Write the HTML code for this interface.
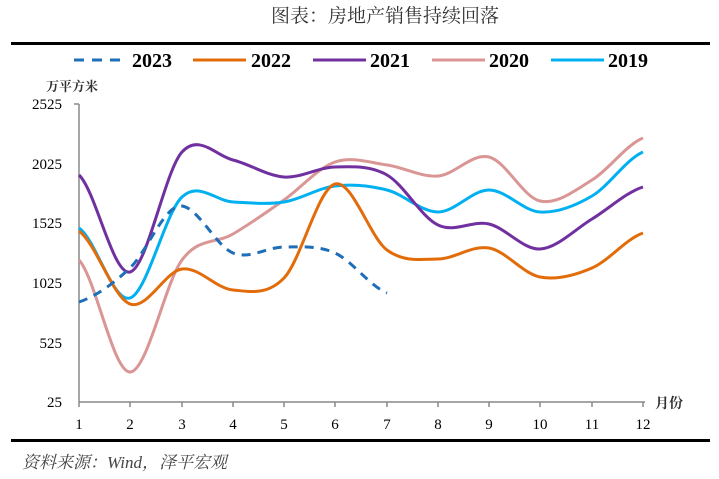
<!DOCTYPE html>
<html><head><meta charset="utf-8"><style>
body{margin:0;background:#fff;width:719px;height:479px;overflow:hidden}
svg{display:block}
</style></head><body>
<svg width="719" height="479" xmlns="http://www.w3.org/2000/svg">
<text x="385" y="22" text-anchor="middle" font-size="19" fill="#333" font-family="Liberation Serif, Noto Serif CJK SC, serif">图表：房地产销售持续回落</text>
<rect x="11" y="42" width="699" height="3" fill="#000"/>
<rect x="11" y="439" width="699" height="3" fill="#000"/>
<g font-family="Liberation Serif, serif" font-weight="bold" font-size="20">
<line x1="74" y1="60" x2="127" y2="60" stroke="#1f6fb8" stroke-width="3" stroke-dasharray="10,8"/><text x="132" y="67">2023</text>
<line x1="193" y1="60" x2="246" y2="60" stroke="#e36c0a" stroke-width="3"/><text x="251" y="67">2022</text>
<line x1="313" y1="60" x2="366" y2="60" stroke="#7030a0" stroke-width="3"/><text x="370" y="67">2021</text>
<line x1="432" y1="60" x2="485" y2="60" stroke="#d99694" stroke-width="3"/><text x="489" y="67">2020</text>
<line x1="551" y1="60" x2="604" y2="60" stroke="#00b0f0" stroke-width="3"/><text x="608" y="67">2019</text>
</g>
<text x="46" y="91" font-size="13" font-weight="bold" fill="#333" font-family="Noto Serif CJK SC, serif">万平方米</text>
<text x="655" y="408" font-size="14" font-weight="bold" fill="#333" font-family="Noto Serif CJK SC, serif">月份</text>
<g font-family="Liberation Serif, serif" font-size="15" text-anchor="end" fill="#000">
<text x="62" y="109">2525</text><text x="62" y="169">2025</text><text x="62" y="228">1525</text><text x="62" y="288">1025</text><text x="62" y="348">525</text><text x="62" y="407">25</text>
</g>
<g stroke="#888" stroke-width="1.5">
<line x1="79" y1="104" x2="79" y2="402"/><line x1="74" y1="104" x2="79" y2="104"/>
<line x1="79" y1="402" x2="645" y2="402"/>
<line x1="79" y1="402" x2="79" y2="407"/><line x1="130" y1="402" x2="130" y2="407"/><line x1="182" y1="402" x2="182" y2="407"/><line x1="233" y1="402" x2="233" y2="407"/><line x1="284" y1="402" x2="284" y2="407"/><line x1="335" y1="402" x2="335" y2="407"/><line x1="387" y1="402" x2="387" y2="407"/><line x1="438" y1="402" x2="438" y2="407"/><line x1="489" y1="402" x2="489" y2="407"/><line x1="540" y1="402" x2="540" y2="407"/><line x1="592" y1="402" x2="592" y2="407"/><line x1="643" y1="402" x2="643" y2="407"/>
</g>
<g font-family="Liberation Serif, serif" font-size="15" text-anchor="middle">
<text x="79" y="429">1</text><text x="130" y="429">2</text><text x="182" y="429">3</text><text x="233" y="429">4</text><text x="284" y="429">5</text><text x="335" y="429">6</text><text x="387" y="429">7</text><text x="438" y="429">8</text><text x="489" y="429">9</text><text x="540" y="429">10</text><text x="592" y="429">11</text><text x="643" y="429">12</text>
</g>
<g fill="none" stroke-width="3">
<path stroke="#d99694" d="M79,260 C96,278.7 113,372 130,372 C147,372 165,283 182,260 C199,237 216,244 233,234 C250,224 267,212 284,200 C301,188 318,167.8 335,162 C352,156.2 370,162.7 387,165 C404,167.3 421,177.3 438,176 C455,174.7 472,152.8 489,157 C506,161.2 523,197.2 540,201 C557,204.8 575,190.5 592,180 C609,169.5 626,145 643,138"/>
<path stroke="#00b0f0" d="M79,228 C96,239.7 113,303.2 130,298 C147,292.8 165,213 182,197 C199,181 216,201.2 233,202 C250,202.8 267,204.7 284,202 C301,199.3 318,188 335,186 C352,184 370,185.7 387,190 C404,194.3 421,212 438,212 C455,212 472,190 489,190 C506,190 523,211 540,212 C557,213 575,206 592,196 C609,186 626,159.3 643,152"/>
<path stroke="#7030a0" d="M79,175 C96,191.2 113,275.8 130,272 C147,268.2 165,170.7 182,152 C199,133.3 216,155.8 233,160 C250,164.2 267,175.8 284,177 C301,178.2 318,167.3 335,167 C352,166.7 370,165.3 387,175 C404,184.7 421,216.8 438,225 C455,233.2 472,220 489,224 C506,228 523,249.8 540,249 C557,248.2 575,229.3 592,219 C609,208.7 626,192.3 643,187"/>
<path stroke="#e36c0a" d="M79,231 C96,243.2 113,297.7 130,304 C147,310.3 165,271.3 182,269 C199,266.7 216,288.5 233,290 C250,291.5 267,295.7 284,278 C301,260.3 318,188.7 335,184 C352,179.3 370,237.5 387,250 C404,262.5 421,259.3 438,259 C455,258.7 472,245 489,248 C506,251 523,273.7 540,277 C557,280.3 575,275.3 592,268 C609,260.7 626,238.8 643,233"/>
<path stroke="#1f6fb8" stroke-dasharray="9,7" d="M79,302 C96,296.3 113,284 130,268 C147,252 165,203.5 182,206 C199,208.5 216,246.2 233,253 C250,259.8 267,247 284,247 C301,247 318,245.3 335,253 C352,260.7 370,286.3 387,293"/>
</g>
<text x="22" y="468" font-size="17" font-style="italic" fill="#444" font-family="Liberation Serif, Noto Serif CJK SC, serif">资料来源：Wind，泽平宏观</text>
</svg>
</body></html>
